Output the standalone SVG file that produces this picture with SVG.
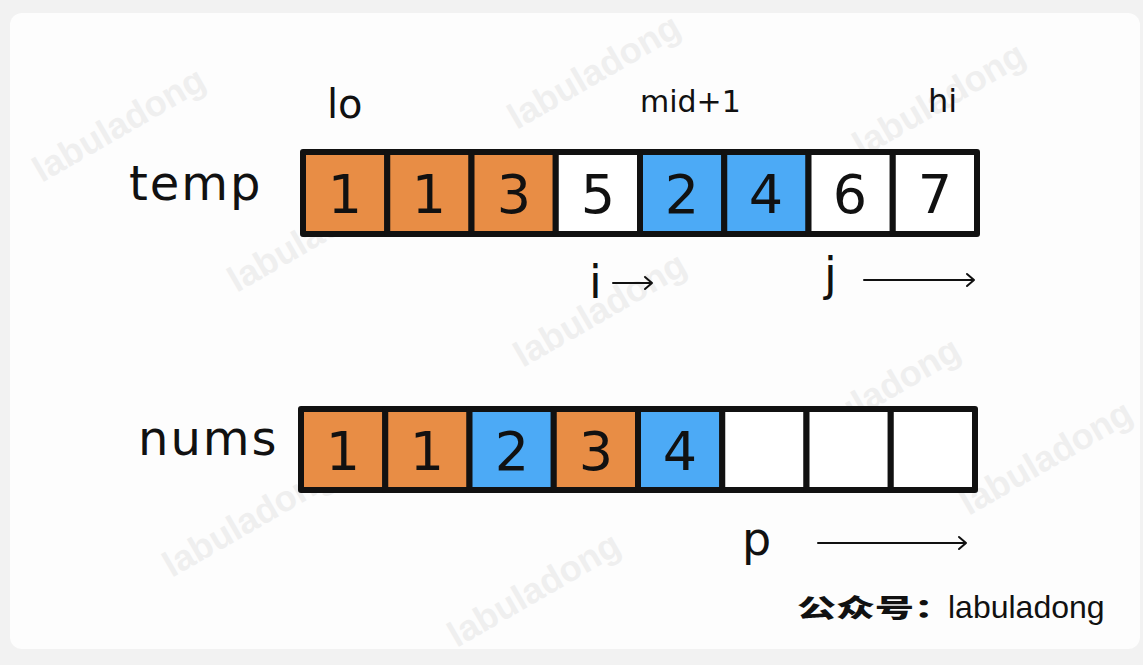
<svg xmlns="http://www.w3.org/2000/svg" width="1143" height="665" viewBox="0 0 1143 665">
<defs>
<style>
.bg{fill:#f2f2f2}
.card{fill:#fdfdfd}
.wm{font-family:"Liberation Sans",Arial,sans-serif;font-weight:bold;font-size:36px;fill:#efefef;text-anchor:middle}
.cell{stroke:#111;stroke-width:6;stroke-linejoin:round}
.or{fill:#e88d45}
.bl{fill:#4caaf6}
.wh{fill:#ffffff}
.num{font-family:"DejaVu Sans","Open Sans",sans-serif;font-size:54px;fill:#111;text-anchor:middle}
.lab{font-family:"DejaVu Sans","Open Sans",sans-serif;fill:#111}
.arr{stroke:#111;stroke-width:2;fill:none;stroke-linecap:round;stroke-linejoin:round}
</style>
</defs>
<rect class="bg" x="0" y="0" width="1143" height="665"/>
<rect class="card" x="10" y="13" width="1130" height="636" rx="12"/>
<g id="watermarks">
<text class="wm" transform="translate(600,82) rotate(-30)">labuladong</text>
<text class="wm" transform="translate(945,110) rotate(-30)">labuladong</text>
<text class="wm" transform="translate(125,135) rotate(-30)">labuladong</text>
<text class="wm" transform="translate(320,245) rotate(-30)">labuladong</text>
<text class="wm" transform="translate(606,320) rotate(-30)">labuladong</text>
<text class="wm" transform="translate(880,405) rotate(-30)">labuladong</text>
<text class="wm" transform="translate(255,530) rotate(-30)">labuladong</text>
<text class="wm" transform="translate(540,600) rotate(-30)">labuladong</text>
<text class="wm" transform="translate(1052,468) rotate(-30)">labuladong</text>
</g>
<g id="labels">
<text class="lab" x="327" y="118" font-size="40">lo</text>
<text class="lab" x="640" y="112" font-size="30">mid+1</text>
<text class="lab" x="928" y="112" font-size="32">hi</text>
<text class="lab" x="129" y="200" font-size="48" letter-spacing="2">temp</text>
<text class="lab" x="138" y="455" font-size="48" letter-spacing="2">nums</text>
</g>
<g id="temp">
<rect class="cell or" x="303" y="152" width="84.25" height="82"/>
<rect class="cell or" x="387.25" y="152" width="84.25" height="82"/>
<rect class="cell or" x="471.5" y="152" width="84.25" height="82"/>
<rect class="cell wh" x="555.75" y="152" width="84.25" height="82"/>
<rect class="cell bl" x="640" y="152" width="84.25" height="82"/>
<rect class="cell bl" x="724.25" y="152" width="84.25" height="82"/>
<rect class="cell wh" x="808.5" y="152" width="84.25" height="82"/>
<rect class="cell wh" x="892.75" y="152" width="84.25" height="82"/>
<text class="num" x="345" y="213">1</text>
<text class="num" x="429" y="213">1</text>
<text class="num" x="514" y="213">3</text>
<text class="num" x="598" y="213">5</text>
<text class="num" x="682" y="213">2</text>
<text class="num" x="766" y="213">4</text>
<text class="num" x="850" y="213">6</text>
<text class="num" x="935" y="213">7</text>
</g>
<g id="nums">
<rect class="cell or" x="301" y="409" width="84.25" height="81"/>
<rect class="cell or" x="385.25" y="409" width="84.25" height="81"/>
<rect class="cell bl" x="469.5" y="409" width="84.25" height="81"/>
<rect class="cell or" x="553.75" y="409" width="84.25" height="81"/>
<rect class="cell bl" x="638" y="409" width="84.25" height="81"/>
<rect class="cell wh" x="722.25" y="409" width="84.25" height="81"/>
<rect class="cell wh" x="806.5" y="409" width="84.25" height="81"/>
<rect class="cell wh" x="890.75" y="409" width="84.25" height="81"/>
<text class="num" x="343" y="470">1</text>
<text class="num" x="427" y="470">1</text>
<text class="num" x="512" y="470">2</text>
<text class="num" x="596" y="470">3</text>
<text class="num" x="680" y="470">4</text>
</g>
<g id="pointers">
<text class="lab" x="589" y="298" font-size="46">i</text>
<text class="lab" x="824" y="290" font-size="46">j</text>
<text class="lab" x="742" y="555" font-size="46">p</text>
</g>
<g id="connectors">
<path class="arr" d="M613 283 H652 M645 277 L652 283 L645 289"/>
<path class="arr" d="M864 280 H974 M967 274 L974 280 L967 286"/>
<path class="arr" d="M818 543 H966 M959 537 L966 543 L959 549"/>
</g>
<g id="footer">
<text x="797" y="617" font-family="'Noto Sans CJK SC',sans-serif" font-weight="900" font-size="30" fill="#111" transform="translate(797,617) scale(1.3,0.85) translate(-797,-617)">公众号：</text>
<text x="948" y="618" font-family="'Liberation Sans',Arial,sans-serif" font-size="32" fill="#111">labuladong</text>
</g>
</svg>
